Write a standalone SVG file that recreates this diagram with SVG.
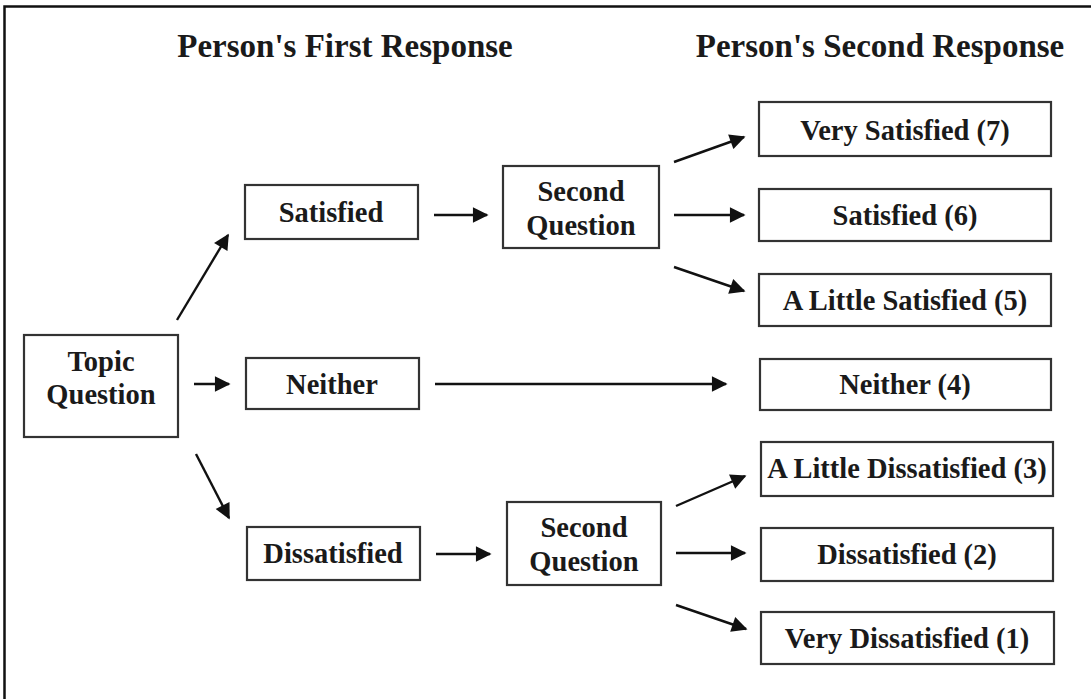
<svg xmlns="http://www.w3.org/2000/svg" width="1091" height="699" viewBox="0 0 1091 699">
<defs>
<style>
.box{fill:#fff;stroke:#333;stroke-width:2.2}
.t{font-family:"Liberation Serif","Times New Roman",serif;font-weight:bold;font-size:28.5px;fill:#1a1a1a;text-anchor:middle}
.h{font-family:"Liberation Serif","Times New Roman",serif;font-weight:bold;font-size:33px;fill:#1a1a1a;text-anchor:middle}
.c{stroke:#111;stroke-width:2.4;fill:none;marker-end:url(#ah)}
</style>
<marker id="ah" viewBox="0 0 10 10" refX="9" refY="5" markerWidth="7.5" markerHeight="6.5" markerUnits="strokeWidth" orient="auto">
<path d="M0,0 L10,5 L0,10 z" fill="#111"/>
</marker>
</defs>
<rect width="1091" height="699" fill="#fff"/>
<path d="M4.5,699 V6.5 H1091" fill="none" stroke="#111" stroke-width="2.5"/>
<g id="titles">
<text class="h" x="345" y="57">Person's First Response</text>
<text class="h" x="880" y="57">Person's Second Response</text>
</g>
<g id="connectors">
<line class="c" x1="177" y1="320" x2="228" y2="235"/>
<line class="c" x1="194" y1="384" x2="229" y2="384"/>
<line class="c" x1="196" y1="454" x2="229" y2="518"/>
<line class="c" x1="434" y1="215" x2="487" y2="215"/>
<line class="c" x1="674" y1="162" x2="744" y2="137"/>
<line class="c" x1="674" y1="215" x2="744" y2="215"/>
<line class="c" x1="674" y1="267" x2="744" y2="291"/>
<line class="c" x1="435" y1="384" x2="726" y2="384"/>
<line class="c" x1="436" y1="554" x2="490" y2="554"/>
<line class="c" x1="676" y1="506" x2="745" y2="476"/>
<line class="c" x1="676" y1="553" x2="745" y2="553"/>
<line class="c" x1="676" y1="605" x2="746" y2="629"/>
</g>
<g id="topic"><rect class="box" x="24" y="335" width="154" height="102"/><text class="t" x="101" y="371">Topic</text><text class="t" x="101" y="404">Question</text></g>
<g id="satisfied"><rect class="box" x="245" y="185" width="173" height="54"/><text class="t" x="331" y="222">Satisfied</text></g>
<g id="neither"><rect class="box" x="246" y="358" width="173" height="51"/><text class="t" x="332" y="394">Neither</text></g>
<g id="dissatisfied"><rect class="box" x="247" y="527" width="173" height="53"/><text class="t" x="333" y="563">Dissatisfied</text></g>
<g id="second1"><rect class="box" x="503" y="166" width="156" height="82"/><text class="t" x="581" y="201">Second</text><text class="t" x="581" y="235">Question</text></g>
<g id="second2"><rect class="box" x="507" y="502" width="154" height="83"/><text class="t" x="584" y="537">Second</text><text class="t" x="584" y="571">Question</text></g>
<g id="r7"><rect class="box" x="759" y="102" width="292" height="54"/><text class="t" x="905" y="140">Very Satisfied (7)</text></g>
<g id="r6"><rect class="box" x="759" y="189" width="292" height="52"/><text class="t" x="905" y="225">Satisfied (6)</text></g>
<g id="r5"><rect class="box" x="759" y="274" width="292" height="52"/><text class="t" x="905" y="310">A Little Satisfied (5)</text></g>
<g id="r4"><rect class="box" x="760" y="359" width="291" height="51"/><text class="t" x="905" y="394">Neither (4)</text></g>
<g id="r3"><rect class="box" x="761" y="442" width="292" height="54"/><text class="t" x="907" y="478">A Little Dissatisfied (3)</text></g>
<g id="r2"><rect class="box" x="761" y="528" width="292" height="53"/><text class="t" x="907" y="564">Dissatisfied (2)</text></g>
<g id="r1"><rect class="box" x="761" y="612" width="293" height="52"/><text class="t" x="907" y="648">Very Dissatisfied (1)</text></g>
</svg>
